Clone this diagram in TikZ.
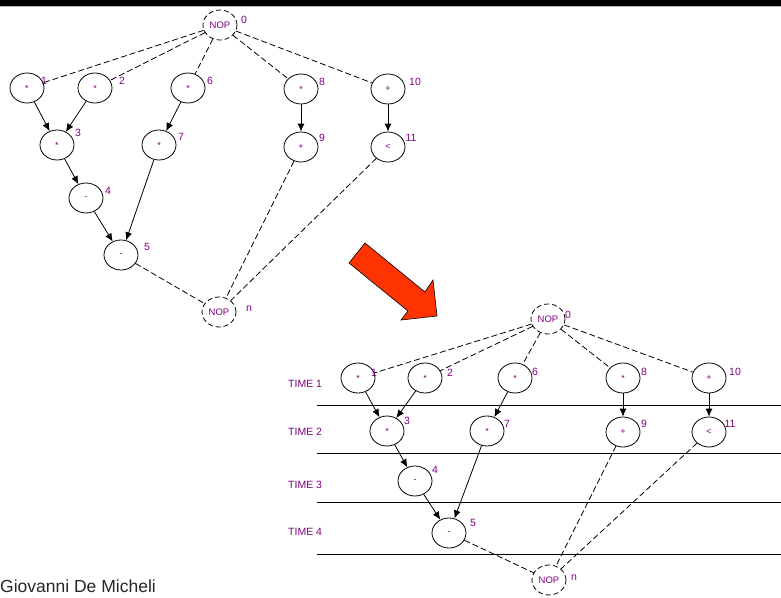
\documentclass[tikz,border=0pt]{standalone}
\usepackage{fontspec}
\setmainfont{Liberation Sans}
\usetikzlibrary{shapes.geometric,arrows.meta}
\definecolor{opcol}{RGB}{128,0,128}
\definecolor{bigarrow}{RGB}{255,51,0}
\begin{document}
\begin{tikzpicture}[x=1pt,y=-1pt,
  op/.style={ellipse,draw,line width=0.8pt,minimum width=34pt,minimum height=30pt,
    inner sep=0pt,font=\fontsize{9}{9}\selectfont,text=opcol},
  nop/.style={op,dash pattern=on 5pt off 3pt,font=\fontsize{9.5}{9.5}\selectfont},
  idx/.style={inner sep=0pt,font=\fontsize{10.5}{10.5}\selectfont,text=opcol},
  steplabel/.style={inner sep=0pt,anchor=west,font=\fontsize{10.5}{10.5}\selectfont,text=opcol},
  dep/.style={-{Latex[length=8pt,width=7pt]},line width=0.8pt},
  ctl/.style={line width=0.8pt,dash pattern=on 6pt off 3pt},
  slot/.style={line width=0.8pt},
]
\useasboundingbox (0,0) rectangle (781,597);

% header bar
\fill (0,0) rectangle (781,6);
\draw[gray!60,line width=0.6pt] (0,6.6) -- (781,6.6);

% ---------------- unscheduled sequencing graph ----------------
\node[nop] (a0) at (220,25) {NOP};
\node[op] (a1) at (27,88) {*};
\node[op] (a2) at (95,88) {*};
\node[op] (a6) at (188,88) {*};
\node[op] (a8) at (301,89) {*};
\node[op] (a10) at (388,89) {+};
\node[op] (a3) at (57,145) {*};
\node[op] (a7) at (159,145) {*};
\node[op] (a9) at (301,147) {+};
\node[op] (a11) at (388,147) {<};
\node[op] (a4) at (86,198) {-};
\node[op] (a5) at (121,255) {-};
\node[nop] (an) at (219,312) {NOP};

\node[idx] (la0) at (244,20) {0};
\node[idx] (la1) at (44,81) {1};
\node[idx] (la2) at (122,81) {2};
\node[idx] (la6) at (210,81) {6};
\node[idx] (la8) at (322,82) {8};
\node[idx] (la10) at (415,82) {10};
\node[idx] (la3) at (78,133) {3};
\node[idx] (la7) at (181,137) {7};
\node[idx] (la9) at (322,138) {9};
\node[idx] (la11) at (411,138) {11};
\node[idx] (la4) at (108,191) {4};
\node[idx] (la5) at (147,247) {5};
\node[idx] (lan) at (249,309) {n};

\foreach \t in {a1,a2,a6,a8,a10} \draw[ctl] (a0) -- (\t);
\foreach \s in {a5,a9,a11} \draw[ctl] (\s) -- (an);
\draw[dep] (a1) -- (a3);
\draw[dep] (a2) -- (a3);
\draw[dep] (a3) -- (a4);
\draw[dep] (a4) -- (a5);
\draw[dep] (a6) -- (a7);
\draw[dep] (a7) -- (a5);
\draw[dep] (a8) -- (a9);
\draw[dep] (a10) -- (a11);

% ---------------- transformation arrow ----------------
\filldraw[fill=bigarrow,draw=black,line width=0.6pt]
  (365,243) -- (425,292) -- (433,280) -- (437,316) -- (401,320) -- (408,311) -- (349,263) -- cycle;

% ---------------- scheduled sequencing graph ----------------
\foreach \yy in {405,453,502,554} \draw[slot] (317,\yy) -- (781,\yy);
\node[steplabel] (t1) at (288,384) {TIME 1};
\node[steplabel] (t2) at (288,432) {TIME 2};
\node[steplabel] (t3) at (288,485) {TIME 3};
\node[steplabel] (t4) at (288,532) {TIME 4};

\node[nop] (b0) at (548,319) {NOP};
\node[op] (b1) at (358,378) {*};
\node[op] (b2) at (425,378) {*};
\node[op] (b6) at (515,378) {*};
\node[op] (b8) at (623,378) {*};
\node[op] (b10) at (709,378) {+};
\node[op] (b3) at (387,431) {*};
\node[op] (b7) at (487,431) {*};
\node[op] (b9) at (623,432) {+};
\node[op] (b11) at (709,432) {<};
\node[op] (b4) at (415,481) {-};
\node[op] (b5) at (449,533) {-};
\node[nop] (bn) at (549,580) {NOP};

\node[idx] (lb0) at (568,315) {0};
\node[idx] (lb1) at (374,373) {1};
\node[idx] (lb2) at (450,373) {2};
\node[idx] (lb6) at (535,372) {6};
\node[idx] (lb8) at (644,372) {8};
\node[idx] (lb10) at (735,372) {10};
\node[idx] (lb3) at (407,421) {3};
\node[idx] (lb7) at (507,424) {7};
\node[idx] (lb9) at (644,424) {9};
\node[idx] (lb11) at (730,424) {11};
\node[idx] (lb4) at (435,470) {4};
\node[idx] (lb5) at (473,523) {5};
\node[idx] (lbn) at (574,578) {n};

\foreach \t in {b1,b2,b6,b8,b10} \draw[ctl] (b0) -- (\t);
\foreach \s in {b5,b9,b11} \draw[ctl] (\s) -- (bn);
\draw[dep] (b1) -- (b3);
\draw[dep] (b2) -- (b3);
\draw[dep] (b3) -- (b4);
\draw[dep] (b4) -- (b5);
\draw[dep] (b6) -- (b7);
\draw[dep] (b7) -- (b5);
\draw[dep] (b8) -- (b9);
\draw[dep] (b10) -- (b11);

% footer
\node[anchor=base west,inner sep=0pt,font=\fontsize{17.5}{17.5}\selectfont,text=black!85] (author) at (0,592) {Giovanni De Micheli};
\end{tikzpicture}
\end{document}
